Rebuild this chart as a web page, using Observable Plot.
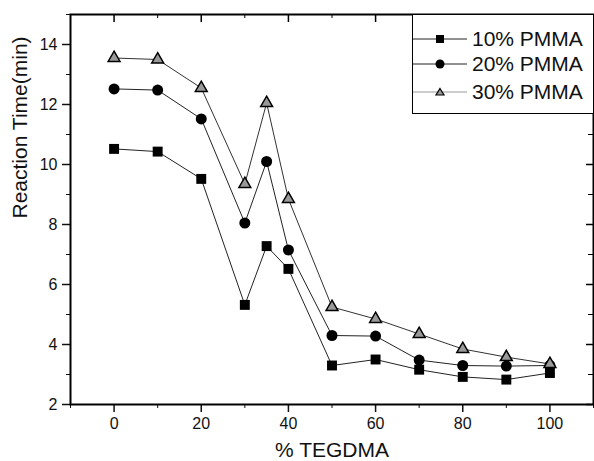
<!DOCTYPE html>
<html><head><meta charset="utf-8">
<script src="https://cdn.jsdelivr.net/npm/d3@7"></script>
<script src="https://cdn.jsdelivr.net/npm/@observablehq/plot@0.6"></script>
<style>
body{margin:0;background:#fff;font-family:"Liberation Sans",Arial,sans-serif;}
#wrap{position:relative;width:594px;height:461px;}
#legend{position:absolute;left:412px;top:14px;width:180px;height:98px;border:1px solid #000;background:#fff;}
.row{position:absolute;left:0;height:24px;width:180px;}
.row svg{position:absolute;left:0;top:0;}
.row span{position:absolute;left:59px;top:0;font-size:21px;line-height:24px;color:#111;white-space:nowrap;}
</style></head>
<body><div id="wrap"></div>
<script>
const tegdma = [0, 10, 20, 30, 35, 40, 50, 60, 70, 80, 90, 100];
const pmma10 = [10.52, 10.43, 9.52, 5.32, 7.28, 6.52, 3.3, 3.5, 3.16, 2.92, 2.83, 3.05];
const pmma20 = [12.52, 12.48, 11.52, 8.05, 10.1, 7.15, 4.3, 4.28, 3.48, 3.3, 3.28, 3.3];
const pmma30 = [13.55, 13.5, 12.55, 9.35, 12.05, 8.85, 5.25, 4.85, 4.35, 3.85, 3.58, 3.35];
const seriesNames = ["10% PMMA", "20% PMMA", "30% PMMA"];
const xMajor = [0, 20, 40, 60, 80, 100];
const xMinor = [-10, 10, 30, 50, 70, 90, 110];
const yMajor = [2, 4, 6, 8, 10, 12, 14];
const yMinor = [3, 5, 7, 9, 11, 13, 15];
const xTitle = "% TEGDMA";
const yTitle = "Reaction Time(min)";

const seriesVals = [pmma10, pmma20, pmma30];
const data = seriesVals.flatMap((vals, i) => tegdma.map((t, j) => ({x: t, y: vals[j], s: seriesNames[i]})));
const byS = n => data.filter(d => d.s === n);
const blank = () => "";

const W = 594, H = 461, mL = 70, mR = 1, mT = 14, mB = 57;
const fw = W - mL - mR, fh = H - mT - mB;

const chart = Plot.plot({
  width: W, height: H,
  marginLeft: mL, marginRight: mR, marginTop: mT, marginBottom: mB,
  style: {fontFamily: "Liberation Sans, Arial, sans-serif", color: "#111", background: "#fff"},
  x: {domain: [-10, 110]},
  y: {domain: [2, 15]},
  marks: [
    Plot.axisX({ticks: xMajor, tickSize: 8, tickPadding: 5, fontSize: 16, label: null, strokeWidth: 1.5}),
    Plot.axisX({ticks: xMinor, tickSize: 4, tickFormat: blank, label: null}),
    Plot.axisY({ticks: yMajor, tickSize: 8, tickPadding: 5, fontSize: 16, label: null, strokeWidth: 1.5}),
    Plot.axisY({ticks: yMinor, tickSize: 4, tickFormat: blank, label: null}),
    // inward ticks on top and right edges
    Plot.tickX(xMajor, {x: d => d, insetBottom: fh - 8, stroke: "#000", strokeWidth: 1.5}),
    Plot.tickX(xMinor, {x: d => d, insetBottom: fh - 4, stroke: "#000", strokeWidth: 1}),
    Plot.tickY(yMajor, {y: d => d, insetLeft: fw - 7, stroke: "#000", strokeWidth: 1.5}),
    Plot.tickY(yMinor, {y: d => d, insetLeft: fw - 5, stroke: "#000", strokeWidth: 1}),
    Plot.frame({stroke: "#000", strokeWidth: 2}),
    Plot.text([xTitle], {frameAnchor: "bottom", lineAnchor: "middle", dy: 46, fontSize: 21, fill: "#111"}),
    Plot.text([yTitle], {frameAnchor: "left", lineAnchor: "middle", dx: -50, dy: 9, rotate: -90, fontSize: 21, fill: "#111"}),
    Plot.line(byS(seriesNames[0]), {x: "x", y: "y", stroke: "#222", strokeWidth: 1}),
    Plot.line(byS(seriesNames[1]), {x: "x", y: "y", stroke: "#222", strokeWidth: 1}),
    Plot.line(byS(seriesNames[2]), {x: "x", y: "y", stroke: "#333", strokeWidth: 1}),
    Plot.dot(byS(seriesNames[0]), {x: "x", y: "y", symbol: "square", r: 5.6, fill: "#000", stroke: "none"}),
    Plot.dot(byS(seriesNames[1]), {x: "x", y: "y", symbol: "circle", r: 5.5, fill: "#000", stroke: "none"}),
    Plot.dot(byS(seriesNames[2]), {x: "x", y: "y", symbol: "triangle", r: 4.4, fill: "#999", stroke: "#000", strokeWidth: 1.5})
  ]
});
const wrap = document.getElementById("wrap");
wrap.appendChild(chart);

// legend
const legend = document.createElement("div");
legend.id = "legend";
const sym = ["square", "circle", "triangle"];
const rowTops = [12, 37, 65];
seriesNames.forEach((n, i) => {
  const row = document.createElement("div");
  row.className = "row";
  row.style.top = rowTops[i] + "px";
  let m;
  if (sym[i] === "square") m = '<rect x="23" y="8" width="8" height="8" fill="#000"/>';
  else if (sym[i] === "circle") m = '<circle cx="27" cy="12" r="4.5" fill="#000"/>';
  else m = '<path d="M27,8.5 L31,15 L23,15 Z" fill="#999" stroke="#000" stroke-width="1.2"/>';
  const lc = i === 2 ? "#999" : "#222";
  row.innerHTML = '<svg width="58" height="24"><line x1="0" y1="12" x2="54" y2="12" stroke="' + lc + '" stroke-width="1"/>' + m + '</svg><span>' + n + '</span>';
  legend.appendChild(row);
});
wrap.appendChild(legend);
</script></body></html>
